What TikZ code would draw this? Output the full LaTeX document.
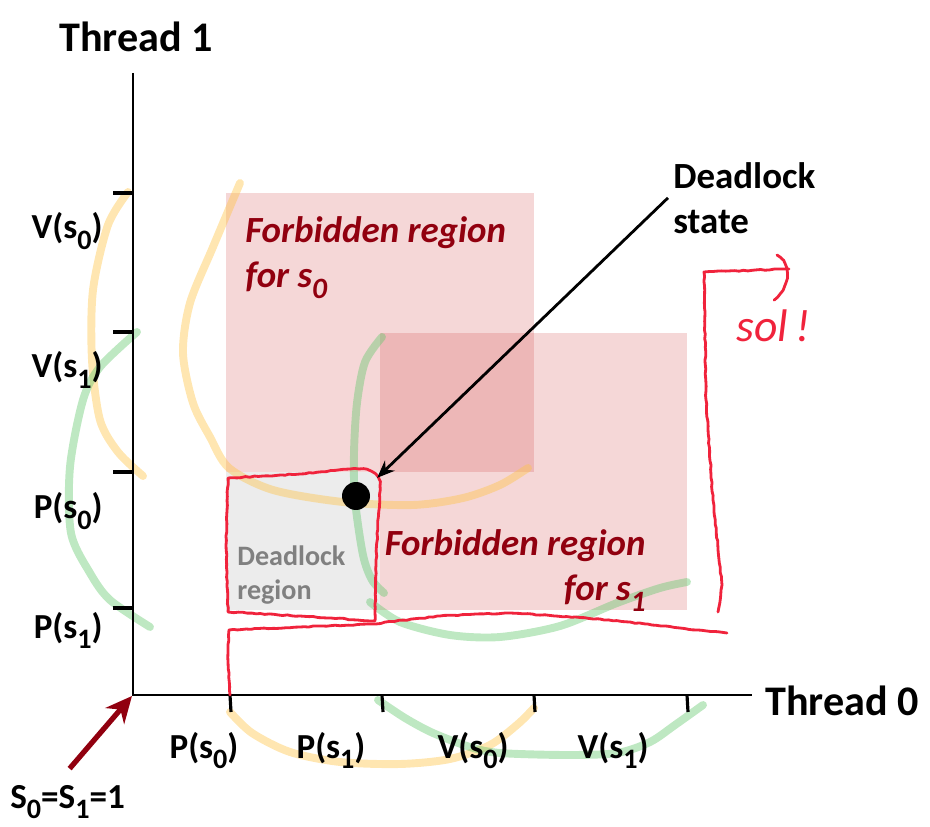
\documentclass[tikz,border=0pt]{standalone}
\usepackage{fontspec}
\setmainfont{Carlito}
\usetikzlibrary{arrows.meta,decorations.pathmorphing}
\definecolor{forbred}{RGB}{145,0,15}
\definecolor{regpink}{RGB}{205,55,55}
\definecolor{dlfill}{RGB}{236,236,236}
\definecolor{dlgray}{RGB}{128,128,128}
\definecolor{hlyellow}{RGB}{255,195,70}
\definecolor{hlgreen}{RGB}{100,200,110}
\definecolor{penred}{RGB}{240,35,60}
\newcommand{\sub}[1]{\raisebox{-0.3em}{\scalebox{0.8}{#1}}}
\tikzset{
  axis/.style={line width=1.1pt},
  tickmark/.style={line width=1.8pt},
  lbl/.style={font=\bfseries\fontsize{20}{24}\selectfont, inner sep=0pt},
  thrlbl/.style={font=\bfseries\fontsize{24}{28}\selectfont, inner sep=0pt},
  forbtxt/.style={font=\bfseries\itshape\fontsize{21}{25.5}\selectfont, text=forbred, inner sep=0pt},
  dltxt/.style={font=\bfseries\fontsize{16}{19.8}\selectfont, text=dlgray, inner sep=0pt, align=left},
  region/.style={fill=regpink, fill opacity=0.2},
  hlyel/.style={draw=hlyellow, line width=4.5pt, line cap=round, opacity=0.42},
  hlgrn/.style={draw=hlgreen, line width=4.5pt, line cap=round, opacity=0.42},
  pen/.style={draw=penred, line width=1.6pt, line cap=round, line join=round,
    decorate, decoration={random steps, segment length=2.5pt, amplitude=0.3pt}}
}
\begin{document}
\begin{tikzpicture}[x=0.02cm,y=-0.02cm]
  \useasboundingbox (0,0) rectangle (930,827);
  \coordinate (O) at (133,695);
  \coordinate (ytop) at (133,73);
  \coordinate (xend) at (752,695);
  \fill[region] (226,193) rectangle (534,472);
  \fill[region] (380,333) rectangle (687,610);
  \fill[dlfill] (226,472) rectangle (380,610);
  \draw[hlyel] plot[smooth] coordinates {(128,192) (108,225) (93,290) (92,360) (100,420) (118,452) (143,476)};
  \draw[hlyel] plot[smooth] coordinates {(240,183) (213,247) (190,303) (183,353) (193,403) (210,437) (229,468) (273,490) (343,502) (413,505) (463,498) (500,485) (528,468)};
  \draw[hlyel] plot[smooth] coordinates {(230,712) (252,733) (290,752) (340,762) (400,764) (450,759) (490,745) (518,724) (534,708)};
  \draw[hlgrn] plot[smooth] coordinates {(137,332) (100,367) (83,400) (70,467) (71,533) (90,573) (110,600) (150,627)};
  \draw[hlgrn] plot[smooth] coordinates {(382,337) (365,362) (357,403) (354,453) (355,500) (363,555) (372,580) (384,593)};
  \draw[hlgrn] plot[smooth] coordinates {(370,602) (400,622) (450,635) (500,637) (560,626) (617,603) (660,588) (687,582)};
  \draw[hlgrn] plot[smooth] coordinates {(378,700) (405,718) (433,733) (470,747) (500,753) (567,755) (617,753) (650,742) (675,725) (703,705)};
  \draw[axis] (ytop) -- (O) -- (xend);
  \foreach \ty in {193,332,472,608}
    \draw[tickmark] (113,\ty) -- (133,\ty);
  \foreach \tx in {230,382,534,687}
    \draw[tickmark] (\tx,695) -- (\tx+1,712);
  \draw[pen] (228,612) -- (226,545) -- (228,478) -- (300,474) -- (350,469)
    .. controls (372,467) and (381,474) .. (380,490) -- (376,560) -- (375,621) -- (300,616) -- cycle;
  \draw[pen] (230,695) -- (228,662) -- (229,630) -- (300,627) -- (372,624) -- (440,616)
    -- (510,613) -- (600,619) -- (680,628) -- (727,633);
  \draw[pen] (718,612) -- (722,585) -- (713,500) -- (706,400) -- (704,272) -- (789,269);
  \draw[pen] (777,255) .. controls (790,262) and (792,285) .. (774,300);
  \node[thrlbl, anchor=base west] (thr1) at (59,52) {Thread 1};
  \node[thrlbl, anchor=base west] (thr0) at (765,715) {Thread 0};
  \foreach \txt/\yb [count=\i] in {V(s\sub{0})/239, V(s\sub{1})/378, P(s\sub{0})/519, P(s\sub{1})/638}
    \node[lbl, anchor=base east] (ylab\i) at (103,\yb) {\txt};
  \foreach \txt/\xc [count=\i] in {P(s\sub{0})/204, P(s\sub{1})/331, V(s\sub{0})/473, V(s\sub{1})/613}
    \node[lbl, anchor=base] (xlab\i) at (\xc,758) {\txt};
  \node[forbtxt, anchor=north west, align=left] (forb0) at (245,216) {Forbidden region\\for s\sub{0}};
  \node[forbtxt, anchor=north east, align=right] (forb1) at (646,529) {Forbidden region\\for s\sub{1}};
  \node[dltxt, anchor=north west] (dlreg) at (237,545) {Deadlock\\region};
  \node[lbl, font=\bfseries\fontsize{21}{25.5}\selectfont, anchor=north west, align=left] (dlstate) at (673,162) {Deadlock\\state};
  \node[lbl, anchor=base west] (init) at (10,808) {S\sub{0}=S\sub{1}=1};
  \node[font=\itshape\fontsize{26}{26}\selectfont, text=penred, inner sep=0pt, anchor=base west] (sol) at (736,342) {sol\,!};
  \node[circle, fill=black, inner sep=0pt, minimum size=0.56cm] (dot) at (356,496) {};
  \draw[line width=1.6pt, -{Stealth[length=10pt,width=8pt]}] ([shift={(-5,0)}]dlstate.west) -- ([shift={(11,-8)}]dot.north east);
  \draw[line width=3pt, draw=forbred, -{Stealth[length=15pt,width=14pt]}] ([shift={(2,-16)}]init.north) -- ([shift={(-1,1)}]O);
\end{tikzpicture}
\end{document}
